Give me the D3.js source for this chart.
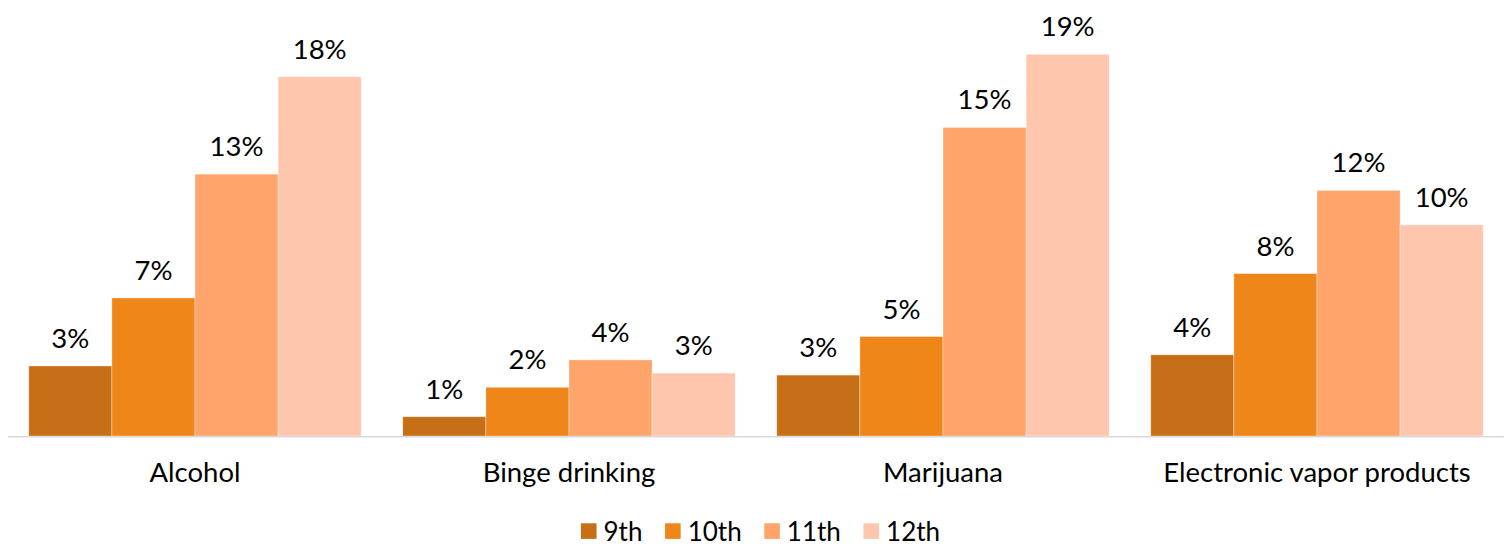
<!DOCTYPE html>
<html>
<head>
<meta charset="utf-8">
<script src="https://cdn.jsdelivr.net/npm/d3@7"></script>
<style>
  html, body { margin: 0; padding: 0; background: #fff; }
  svg { display: block; }
  text { font-family: Lato, "Open Sans", sans-serif; fill: #000; }
</style>
</head>
<body>
<svg id="chart" width="1512" height="546"></svg>
<script>
const categories = ["Alcohol", "Binge drinking", "Marijuana", "Electronic vapor products"];
const grades = ["9th", "10th", "11th", "12th"];
const grade9  = [3.45, 0.95, 3.0, 4.0];
const grade10 = [6.8, 2.4, 4.9, 8.0];
const grade11 = [12.9, 3.75, 15.2, 12.1];
const grade12 = [17.7, 3.1, 18.8, 10.4];
const colors = ["#C76F16", "#EE861A", "#FFA46A", "#FFC6AE"];

const seriesValues = [grade9, grade10, grade11, grade12];
const data = categories.map((c, i) => ({
  category: c,
  values: grades.map((g, j) => ({ grade: g, value: seriesValues[j][i] }))
}));

const svg = d3.select("#chart");
const FS = 27.5;
const LFS = 26;

const x0 = d3.scaleBand().domain(categories).range([8, 1504])
  .paddingInner(0.111).paddingOuter(0.0555);
const x1 = d3.scaleBand().domain(grades).range([0, x0.bandwidth()]).padding(0);
const y = d3.scaleLinear().domain([0, 20]).range([436, 30]);
const color = d3.scaleOrdinal().domain(grades).range(colors);

const groups = svg.append("g").selectAll("g").data(data).join("g")
  .attr("transform", d => `translate(${x0(d.category)},0)`);

groups.selectAll("rect").data(d => d.values).join("rect")
  .attr("x", d => x1(d.grade))
  .attr("y", d => y(d.value))
  .attr("width", x1.bandwidth())
  .attr("height", d => y(0) - y(d.value))
  .attr("fill", d => color(d.grade))
  .attr("stroke", "rgba(255,255,255,0.45)")
  .attr("stroke-width", 0.8);

groups.selectAll("text.val").data(d => d.values).join("text")
  .attr("class", "val")
  .attr("x", d => x1(d.grade) + x1.bandwidth() / 2)
  .attr("y", d => y(d.value) - 18)
  .attr("text-anchor", "middle")
  .attr("font-size", FS)
  .text(d => Math.round(d.value) + "%");

// axis
const xAxis = d3.axisBottom(x0).tickSize(0).tickPadding(0);
const axisG = svg.append("g").attr("transform", "translate(0,436.7)").call(xAxis);
axisG.select(".domain").attr("stroke", "#D9D9D9").attr("stroke-width", 1.5)
  .attr("d", "M8,0H1504");
axisG.selectAll(".tick text")
  .attr("font-size", FS)
  .attr("font-family", "Lato, 'Open Sans', sans-serif")
  .attr("fill", "#000")
  .attr("dy", null)
  .attr("y", 45.5);

// legend
const legend = svg.append("g");
const sq = 15.6, gapText = 7, gapItem = 22.6;
let cx = 0;
grades.forEach(g => {
  const gi = legend.append("g");
  gi.append("rect").attr("x", 0).attr("y", 523.3).attr("width", sq).attr("height", sq)
    .attr("fill", color(g));
  const t = gi.append("text").attr("x", sq + gapText).attr("y", 541)
    .attr("font-size", LFS).text(g);
  const w = sq + gapText + t.node().getComputedTextLength();
  gi.attr("transform", `translate(${cx},0)`);
  cx += w + gapItem;
});
const total = cx - gapItem;
legend.attr("transform", `translate(${760.5 - total / 2},0)`);
</script>
</body>
</html>
